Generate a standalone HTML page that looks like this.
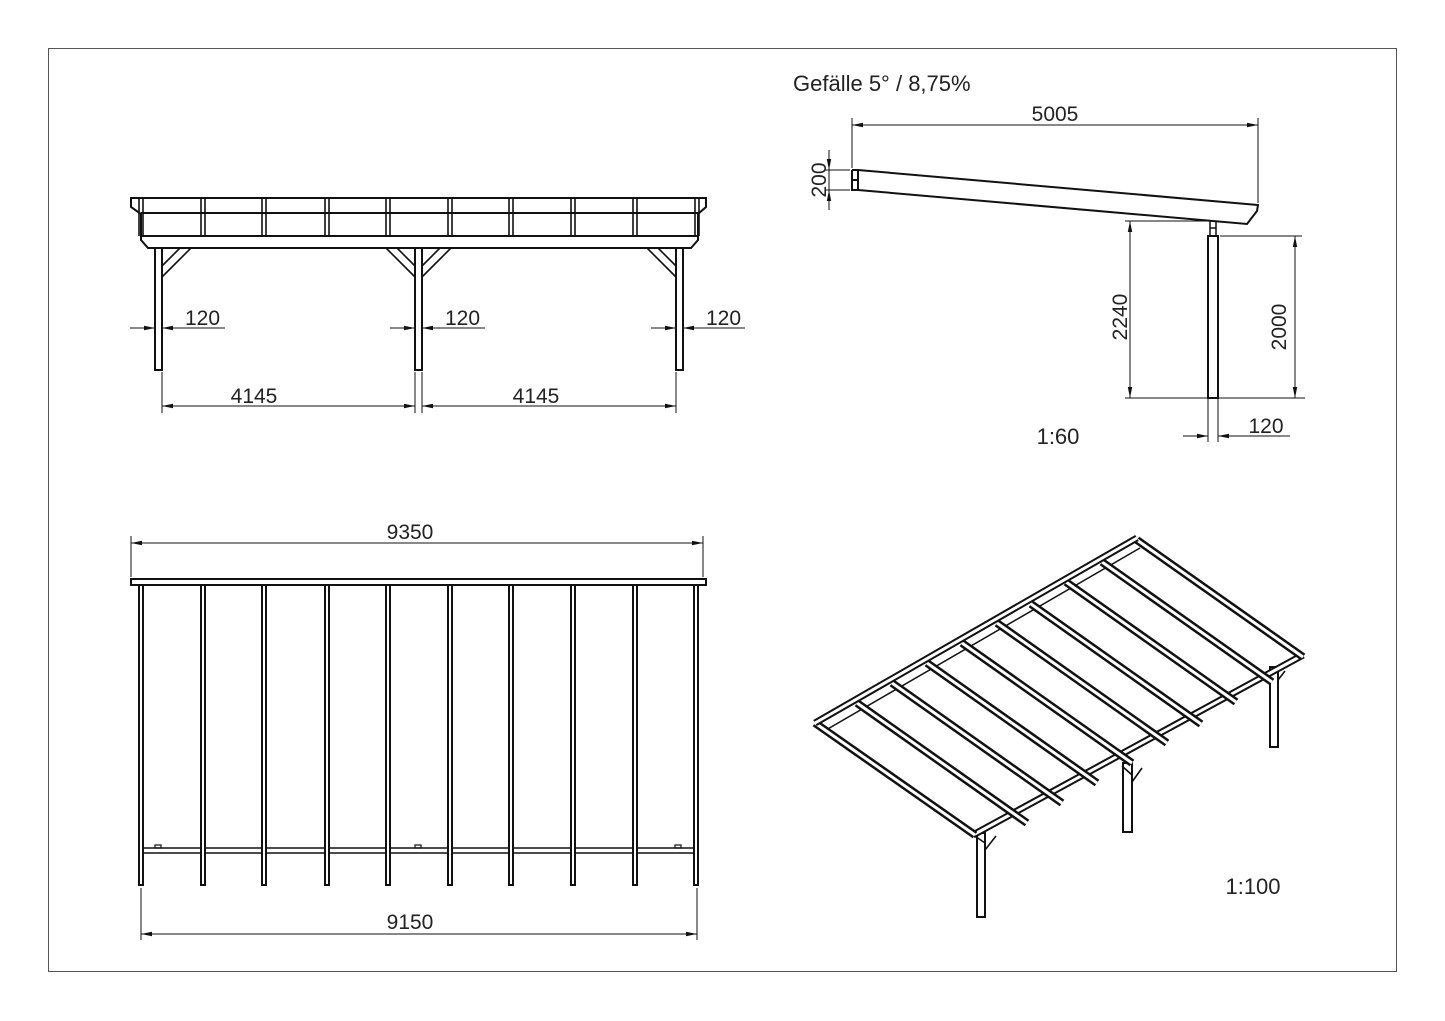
<!DOCTYPE html>
<html><head><meta charset="utf-8"><style>
html,body{margin:0;padding:0;background:#fff;}
svg{display:block;}
text{font-family:"Liberation Sans","DejaVu Sans",sans-serif;fill:#222;}
</style></head><body>
<svg width="1445" height="1021" viewBox="0 0 1445 1021" xmlns="http://www.w3.org/2000/svg">
<defs>
<marker id="a" markerWidth="12" markerHeight="6" refX="11" refY="3" orient="auto" markerUnits="userSpaceOnUse"><path d="M0,0.8 L11,3 L0,5.2 z" fill="#111"/></marker>
<marker id="b" markerWidth="12" markerHeight="6" refX="1" refY="3" orient="auto" markerUnits="userSpaceOnUse"><path d="M12,0.8 L1,3 L12,5.2 z" fill="#111"/></marker>
</defs>
<rect x="48.5" y="48.5" width="1348" height="923" fill="none" stroke="#555" stroke-width="1"/>

<!-- FRONT ELEVATION -->
<g stroke="#111" stroke-width="2" fill="none">
<path d="M131,198 L706,198 L706,207 L698,214 L698,240 L691,248 L148,248 L141,240 L141,214 L131,207 Z"/>
<line x1="141" y1="213" x2="698" y2="213"/>
<line x1="141" y1="236" x2="698" y2="236"/>
<g stroke-width="1.6">
<path d="M139,199v37M143,199v37M201,199v37M205,199v37M262,199v37M266,199v37M325,199v37M329,199v37M386,199v37M390,199v37M448,199v37M452,199v37M509,199v37M513,199v37M571,199v37M575,199v37M633,199v37M637,199v37M695,199v37M699,199v37"/>
</g>
<rect x="155" y="248" width="7" height="122"/>
<rect x="415" y="248" width="7" height="122"/>
<rect x="676" y="248" width="7" height="122"/>
<path d="M162,277 L191,248 M162,266 L180,248" stroke-width="1.6"/>
<path d="M415,277 L386,248 M415,266 L397,248" stroke-width="1.6"/>
<path d="M422,277 L451,248 M422,266 L440,248" stroke-width="1.6"/>
<path d="M676,277 L647,248 M676,266 L658,248" stroke-width="1.6"/>
</g>
<g stroke="#111" stroke-width="1" fill="none">
<line x1="130" y1="328" x2="155" y2="328" marker-end="url(#a)"/>
<line x1="185" y1="328" x2="162" y2="328" marker-end="url(#a)"/>
<line x1="162" y1="328" x2="225" y2="328"/>
<line x1="390" y1="328" x2="415" y2="328" marker-end="url(#a)"/>
<line x1="445" y1="328" x2="422" y2="328" marker-end="url(#a)"/>
<line x1="422" y1="328" x2="485" y2="328"/>
<line x1="651" y1="328" x2="676" y2="328" marker-end="url(#a)"/>
<line x1="706" y1="328" x2="683" y2="328" marker-end="url(#a)"/>
<line x1="683" y1="328" x2="745" y2="328"/>
<line x1="162" y1="372" x2="162" y2="413"/>
<line x1="415" y1="372" x2="415" y2="413"/>
<line x1="422" y1="372" x2="422" y2="413"/>
<line x1="676" y1="372" x2="676" y2="413"/>
<line x1="162" y1="406" x2="415" y2="406" marker-start="url(#b)" marker-end="url(#a)"/>
<line x1="422" y1="406" x2="676" y2="406" marker-start="url(#b)" marker-end="url(#a)"/>
</g>
<g font-size="21">
<text x="185" y="325">120</text>
<text x="445" y="325">120</text>
<text x="706" y="325">120</text>
<text x="254" y="403" text-anchor="middle">4145</text>
<text x="536" y="403" text-anchor="middle">4145</text>
</g>

<!-- SIDE VIEW -->
<text x="793" y="91" font-size="22">Gefälle 5° / 8,75%</text>
<g stroke="#111" stroke-width="2" fill="none">
<path d="M858,170 L1258,205 L1257,211 L1247,224 L858,190 M852,170 L858,170 M852,170 L852,190 L858,190 M858,170 L858,190 M852,180 L858,180"/>
<rect x="1208" y="236" width="10" height="162"/>
<path d="M1210,221 V236 M1216,221 V236 M1210,228 H1216" stroke-width="1.5"/>
</g>
<g stroke="#111" stroke-width="1" fill="none">
<line x1="852" y1="118" x2="852" y2="168"/>
<line x1="1258" y1="118" x2="1258" y2="203"/>
<line x1="852" y1="125" x2="1258" y2="125" marker-start="url(#b)" marker-end="url(#a)"/>
<line x1="825" y1="170" x2="850" y2="170"/>
<line x1="825" y1="190" x2="850" y2="190"/>
<line x1="829" y1="150" x2="829" y2="170" marker-end="url(#a)"/>
<line x1="829" y1="210" x2="829" y2="190" marker-end="url(#a)"/>
<line x1="829" y1="170" x2="829" y2="190"/>
<line x1="1125" y1="221" x2="1208" y2="221"/>
<line x1="1125" y1="398" x2="1305" y2="398"/>
<line x1="1130" y1="221" x2="1130" y2="398" marker-start="url(#b)" marker-end="url(#a)"/>
<line x1="1220" y1="236" x2="1302" y2="236"/>
<line x1="1295" y1="236" x2="1295" y2="398" marker-start="url(#b)" marker-end="url(#a)"/>
<line x1="1208" y1="398" x2="1208" y2="442"/>
<line x1="1218" y1="398" x2="1218" y2="442"/>
<line x1="1183" y1="436" x2="1208" y2="436" marker-end="url(#a)"/>
<line x1="1243" y1="436" x2="1218" y2="436" marker-end="url(#a)"/>
<line x1="1218" y1="436" x2="1290" y2="436"/>
</g>
<g font-size="21">
<text x="1055" y="121" text-anchor="middle">5005</text>
<text transform="translate(826,180) rotate(-90)" text-anchor="middle">200</text>
<text transform="translate(1127,317) rotate(-90)" text-anchor="middle">2240</text>
<text transform="translate(1286,327) rotate(-90)" text-anchor="middle">2000</text>
<text x="1266" y="433" text-anchor="middle">120</text>
<text x="1058" y="444" text-anchor="middle" font-size="22">1:60</text>
</g>

<!-- PLAN VIEW -->
<g stroke="#111" stroke-width="2" fill="none">
<rect x="131" y="579" width="575" height="6"/>
<line x1="143" y1="848" x2="694" y2="848" stroke-width="1.6"/>
<line x1="143" y1="853" x2="694" y2="853" stroke-width="1.6"/>
<rect x="155" y="845" width="6" height="3" stroke-width="1.2"/>
<rect x="415" y="845" width="6" height="3" stroke-width="1.2"/>
<rect x="675" y="845" width="6" height="3" stroke-width="1.2"/>
<g fill="#fff">
<rect x="139" y="585" width="4" height="300"/>
<rect x="201" y="585" width="4" height="300"/>
<rect x="262" y="585" width="4" height="300"/>
<rect x="325" y="585" width="4" height="300"/>
<rect x="386" y="585" width="4" height="300"/>
<rect x="448" y="585" width="4" height="300"/>
<rect x="509" y="585" width="4" height="300"/>
<rect x="571" y="585" width="4" height="300"/>
<rect x="633" y="585" width="4" height="300"/>
<rect x="694" y="585" width="4" height="300"/>
</g>
</g>
<g stroke="#111" stroke-width="1" fill="none">
<line x1="131" y1="536" x2="131" y2="577"/>
<line x1="703" y1="536" x2="703" y2="577"/>
<line x1="131" y1="543" x2="703" y2="543" marker-start="url(#b)" marker-end="url(#a)"/>
<line x1="141" y1="888" x2="141" y2="940"/>
<line x1="697" y1="888" x2="697" y2="940"/>
<line x1="141" y1="934" x2="697" y2="934" marker-start="url(#b)" marker-end="url(#a)"/>
</g>
<g font-size="21">
<text x="410" y="539" text-anchor="middle">9350</text>
<text x="410" y="929" text-anchor="middle">9150</text>
</g>

<!-- ISO VIEW -->
<g fill="none" stroke-linecap="butt">
<g stroke="#111" stroke-width="2" fill="#fff">
<rect x="977" y="833" width="8" height="84"/>
<rect x="1123" y="763" width="9" height="69"/>
<rect x="1270" y="667" width="8" height="80"/>
</g>
<path d="M985,850 L996,836 M1132,782 L1142,768 M1132,775 L1122,766 M1278,680 L1285,671" stroke="#111" stroke-width="1.6"/>
<path d="M973,835 L1303,655" stroke="#111" stroke-width="7"/>
<path d="M973,835 L1303,655" stroke="#fff" stroke-width="3"/>
<path d="M826,730 L1140,548" stroke="#111" stroke-width="1.5"/>
<path d="M828,735 L985,843" stroke="#111" stroke-width="1.5"/>
<g stroke="#111" stroke-width="8">
<path d="M815,723 L975,835"/>
<path d="M857,703 L1027,823"/>
<path d="M892,683 L1062,803"/>
<path d="M927,663 L1097,783"/>
<path d="M962,643 L1132,763"/>
<path d="M997,623 L1167,743"/>
<path d="M1031,604 L1201,724"/>
<path d="M1066,582 L1236,702"/>
<path d="M1102,562 L1272,682"/>
<path d="M1137,540 L1303,657"/>
</g>
<g stroke="#fff" stroke-width="3">
<path d="M815,723 L975,835"/>
<path d="M857,703 L1027,823"/>
<path d="M892,683 L1062,803"/>
<path d="M927,663 L1097,783"/>
<path d="M962,643 L1132,763"/>
<path d="M997,623 L1167,743"/>
<path d="M1031,604 L1201,724"/>
<path d="M1066,582 L1236,702"/>
<path d="M1102,562 L1272,682"/>
<path d="M1137,540 L1303,657"/>
</g>
<path d="M815,723 L1137,538" stroke="#111" stroke-width="7"/>
<path d="M815,723 L1137,538" stroke="#fff" stroke-width="3"/>
</g>
<text x="1253" y="894" font-size="22" text-anchor="middle">1:100</text>
</svg>
</body></html>
